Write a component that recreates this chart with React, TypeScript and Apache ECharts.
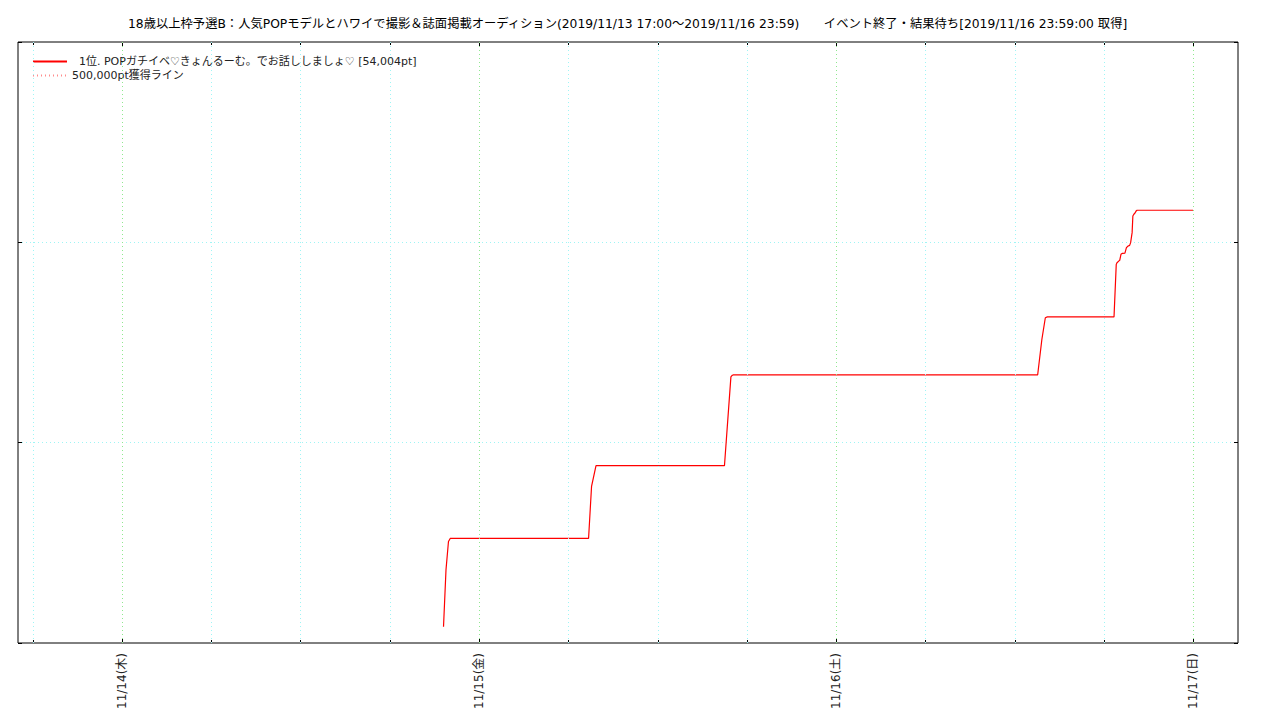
import { useEffect, useRef } from "react";
import * as echarts from "echarts";

const TITLE =
  "18歳以上枠予選B：人気POPモデルとハワイで撮影＆誌面掲載オーディション(2019/11/13 17:00～2019/11/16 23:59)　　イベント終了・結果待ち[2019/11/16 23:59:00 取得]";
const SERIES_NAME = "  1位. POPガチイベ♡きょんるーむ。でお話ししましょ♡ [54,004pt]";
const LINE_NAME = "500,000pt獲得ライン";
const LINE_VALUE = 500000;

const pointTimes = [
  "2019-11-14 21:36", "2019-11-14 21:46", "2019-11-14 21:56", "2019-11-14 22:03",
  "2019-11-15 07:21", "2019-11-15 07:33", "2019-11-15 07:51",
  "2019-11-15 16:29", "2019-11-15 16:55", "2019-11-15 17:00", "2019-11-15 17:04",
  "2019-11-16 13:32", "2019-11-16 13:49", "2019-11-16 14:03", "2019-11-16 14:11",
  "2019-11-16 18:40", "2019-11-16 18:49", "2019-11-16 18:52", "2019-11-16 18:59",
  "2019-11-16 19:03", "2019-11-16 19:08", "2019-11-16 19:14", "2019-11-16 19:24",
  "2019-11-16 19:30", "2019-11-16 19:37", "2019-11-16 19:43", "2019-11-16 19:47",
  "2019-11-16 19:53", "2019-11-16 19:56", "2019-11-16 20:00", "2019-11-16 20:04",
  "2019-11-16 20:09", "2019-11-16 20:13", "2019-11-16 23:59",
];
const pointValues = [
  2040, 9125, 12660, 13050,
  13050, 19540, 22125,
  22125, 33210, 33400, 33450,
  33450, 37875, 40590, 40700,
  40700, 47250, 47460, 47660,
  47750, 48500, 48625, 48660,
  49340, 49540, 49625, 49960,
  51210, 53290, 53500, 53625,
  53900, 54004, 54004,
];

const axisStart = "2019-11-13 17:00";
const axisEnd = "2019-11-17 03:00";
const dayTicks = ["2019-11-14 00:00", "2019-11-15 00:00", "2019-11-16 00:00", "2019-11-17 00:00"];
const dayLabels = ["11/14(木)", "11/15(金)", "11/16(土)", "11/17(日)"];
const quarterTicks = [
  "2019-11-13 18:00",
  "2019-11-14 06:00", "2019-11-14 12:00", "2019-11-14 18:00",
  "2019-11-15 06:00", "2019-11-15 12:00", "2019-11-15 18:00",
  "2019-11-16 06:00", "2019-11-16 12:00", "2019-11-16 18:00",
];
const yMin = 0;
const yMax = 75000;
const yStep = 25000;

function toMs(s: string): number {
  const [d, t] = s.split(" ");
  const [Y, M, D] = d.split("-").map(Number);
  const [h, m] = t.split(":").map(Number);
  return Date.UTC(Y, M - 1, D, h, m);
}

const FONT = "'DejaVu Sans', 'Noto Sans CJK JP', sans-serif";
const GREEN = "#8fe88f";
const CYAN = "#9ff5f5";
const RED = "#ff0000";
const PINK = "#ff8c8c";

export default function App() {
  const ref = useRef<HTMLDivElement>(null);

  useEffect(() => {
    if (!ref.current) return;
    const chart = echarts.init(ref.current, undefined, { renderer: "svg" });

    const xMin = toMs(axisStart);
    const xMax = toMs(axisEnd);
    const dayMs = dayTicks.map(toMs);
    const quarterMs = quarterTicks.map(toMs);

    const baseX = {
      type: "value" as const,
      min: xMin,
      max: xMax,
      axisLine: { show: false },
      splitLine: { show: false },
    };

    const seriesData = pointTimes.map((t, i) => [toMs(t), pointValues[i]]);

    chart.setOption({
      animation: false,
      backgroundColor: "#ffffff",
      textStyle: { fontFamily: FONT },
      title: {
        text: TITLE,
        left: 123,
        top: 13,
        textStyle: { fontSize: 12.3, fontWeight: "normal", color: "#000", fontFamily: FONT },
      },
      legend: {
        orient: "vertical",
        left: 32,
        top: 56,
        padding: 0,
        itemGap: 3,
        itemWidth: 34,
        itemHeight: 11,
        itemStyle: { opacity: 0 },
        textStyle: { fontSize: 11, color: "#222", fontFamily: FONT },
        data: [SERIES_NAME, LINE_NAME],
      },
      grid: {
        left: 18,
        right: 42,
        top: 42,
        bottom: 77,
        show: true,
        borderColor: "#000",
        borderWidth: 1,
        backgroundColor: "transparent",
      },
      xAxis: [
        {
          ...baseX,
          position: "bottom",
          axisTick: { show: true, inside: true, length: 5, customValues: dayMs, lineStyle: { color: "#000" } },
          axisLabel: {
            show: true,
            customValues: dayMs,
            rotate: 90,
            margin: 10,
            fontSize: 12,
            color: "#222",
            fontFamily: FONT,
            formatter: (v: number) => {
              const i = dayMs.indexOf(v);
              return i >= 0 ? dayLabels[i] : "";
            },
          },
        },
        {
          ...baseX,
          position: "bottom",
          axisTick: { show: true, inside: true, length: 3, customValues: quarterMs, lineStyle: { color: "#000" } },
          axisLabel: { show: false },
        },
        {
          ...baseX,
          position: "top",
          axisTick: { show: true, inside: true, length: 5, customValues: dayMs, lineStyle: { color: "#000" } },
          axisLabel: { show: false },
        },
        {
          ...baseX,
          position: "top",
          axisTick: { show: true, inside: true, length: 3, customValues: quarterMs, lineStyle: { color: "#000" } },
          axisLabel: { show: false },
        },
      ],
      yAxis: [
        {
          type: "value",
          position: "left",
          min: yMin,
          max: yMax,
          interval: yStep,
          axisLine: { show: false },
          axisLabel: { show: false },
          axisTick: { show: true, inside: true, length: 4, lineStyle: { color: "#000" } },
          splitLine: {
            show: true,
            showMinLine: false,
            showMaxLine: false,
            lineStyle: { color: CYAN, type: [1, 3], width: 1 },
          },
        },
        {
          type: "value",
          position: "right",
          min: yMin,
          max: yMax,
          interval: yStep,
          axisLine: { show: false },
          axisLabel: { show: false },
          axisTick: { show: true, inside: true, length: 4, lineStyle: { color: "#000" } },
          splitLine: { show: false },
        },
      ],
      series: [
        {
          name: SERIES_NAME,
          type: "line",
          xAxisIndex: 0,
          yAxisIndex: 0,
          z: 3,
          symbol: "none",
          data: seriesData,
          lineStyle: { color: RED, width: 1.2 },
          itemStyle: { color: RED },
        },
        {
          name: LINE_NAME,
          type: "line",
          xAxisIndex: 0,
          yAxisIndex: 0,
          z: 1,
          symbol: "none",
          clip: true,
          silent: true,
          data: [
            [xMin, LINE_VALUE],
            [xMax, LINE_VALUE],
          ],
          lineStyle: { color: PINK, width: 1, type: [1, 3] },
          itemStyle: { color: PINK },
          markLine: {
            silent: true,
            symbol: ["none", "none"],
            label: { show: false },
            animation: false,
            data: [
              ...dayMs.map((v) => ({ xAxis: v, lineStyle: { color: GREEN, type: [1, 3], width: 1 } })),
              ...quarterMs.map((v) => ({ xAxis: v, lineStyle: { color: CYAN, type: [1, 3], width: 1 } })),
            ],
          },
        },
      ],
    });

    return () => {
      chart.dispose();
    };
  }, []);

  return (
    <div
      ref={ref}
      style={{ position: "fixed", left: 0, top: 0, width: 1280, height: 720, background: "#fff" }}
    />
  );
}
